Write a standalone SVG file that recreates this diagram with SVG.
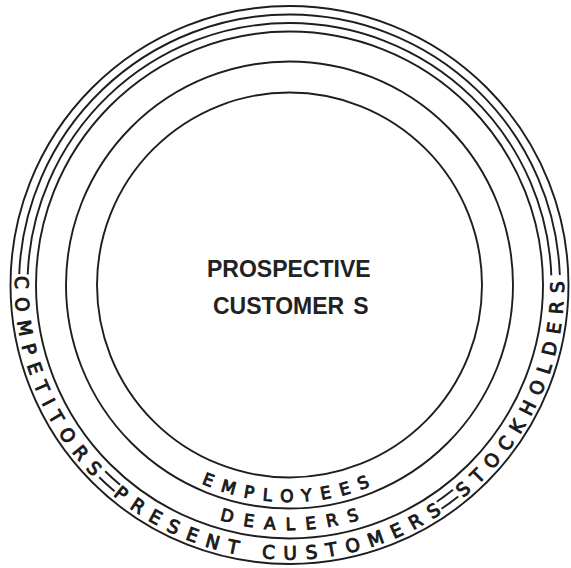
<svg xmlns="http://www.w3.org/2000/svg" width="571" height="568" viewBox="0 0 571 568">
<style>
.ring{fill:none;stroke:#1e1e1e;stroke-width:1.9}
.rt{font-family:"DejaVu Sans","Liberation Sans",sans-serif;fill:#1a1a1a;stroke:#1a1a1a;stroke-width:0.95;stroke-linejoin:round}
.outer{font-size:18.5px}
.inner{font-size:17px}
.ct{font-family:"Liberation Sans","DejaVu Sans",sans-serif;font-weight:bold;font-size:23px;fill:#222}
</style>
<defs>
<path id="pOuter" d="M 19.17 237.33 A 274.5 274.5 0 1 0 559.83 237.33"/>
<path id="pEmp" d="M 75.8 247.32 A 217 217 0 1 0 503.2 247.32"/>
<path id="pDeal" d="M 48.22 242.46 A 245 245 0 1 0 530.78 242.46"/>
</defs>
<rect width="571" height="568" fill="#ffffff"/>
<g id="connectors">
<circle class="ring" cx="289.5" cy="285" r="279"/>
<path class="ring" d="M 19.22 274.14 A 270.5 270.5 0 0 1 559.82 275.09"/>
<path class="ring" d="M 27.71 274.49 A 262 262 0 0 1 551.32 275.40"/>
<path class="ring" d="M 99.23 477.27 A 270.5 270.5 0 0 0 114.54 491.30"/>
<path class="ring" d="M 105.21 471.23 A 262 262 0 0 0 120.04 484.82"/>
<path class="ring" d="M 441.54 508.73 A 270.5 270.5 0 0 0 458.26 496.40"/>
<path class="ring" d="M 436.77 501.69 A 262 262 0 0 0 452.96 489.76"/>
<circle class="ring" cx="289.5" cy="285" r="253.5"/>
<circle class="ring" cx="289.5" cy="285" r="223.5"/>
<circle class="ring" cx="289.5" cy="285" r="192.5"/>
</g>
<g id="competitors"><text class="rt outer" letter-spacing="8.8"><textPath href="#pOuter" startOffset="39.1">COMPETITORS</textPath></text></g>
<g id="present-customers"><text class="rt outer" letter-spacing="9.19"><textPath href="#pOuter" startOffset="287.1">PRESENT CUSTOMERS</textPath></text></g>
<g id="stockholders"><text class="rt outer" letter-spacing="8.64"><textPath href="#pOuter" startOffset="666.3">STOCKHOLDERS</textPath></text></g>
<g id="employees"><text class="rt inner" letter-spacing="9.25"><textPath href="#pEmp" startOffset="287.8">EMPLOYEES</textPath></text></g>
<g id="dealers"><text class="rt inner" letter-spacing="10.6"><textPath href="#pDeal" startOffset="356.5">DEALERS</textPath></text></g>
<g id="prospective-customers">
<text class="ct" x="207" y="277">PROSPECTIVE</text>
<text class="ct" x="213" y="314">CUSTOMER<tspan dx="9">S</tspan></text>
</g>
</svg>
